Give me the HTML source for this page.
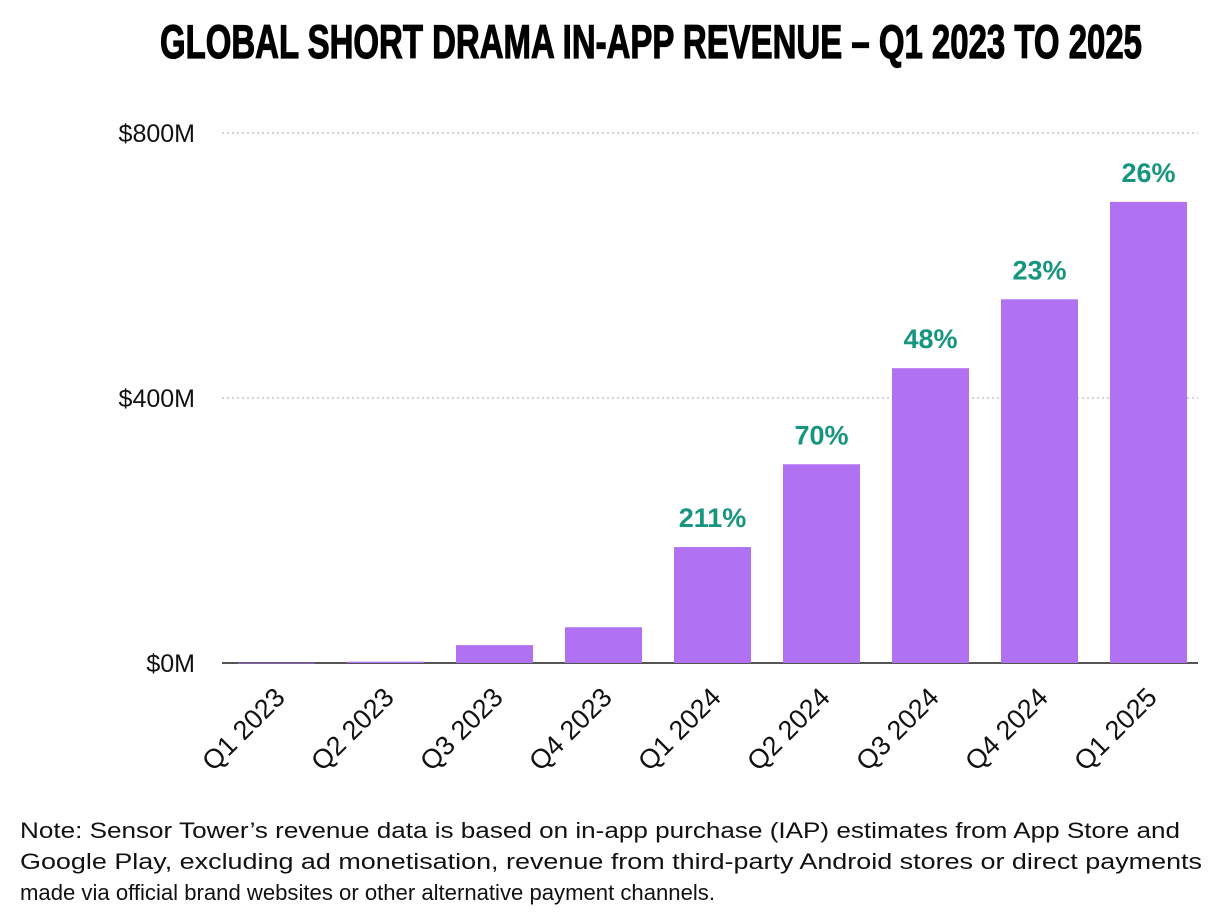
<!DOCTYPE html>
<html><head><meta charset="utf-8"><style>
body{margin:0;background:#fff;}
svg{display:block;}
</style></head><body>
<svg id="chart" width="1224" height="916" viewBox="0 0 1224 916" xmlns="http://www.w3.org/2000/svg">
<text x="651" y="58" text-anchor="middle" font-family="'Liberation Sans Narrow','Liberation Sans',sans-serif" font-weight="bold" font-size="47" textLength="982" lengthAdjust="spacingAndGlyphs" fill="#000" stroke="#000" stroke-width="1.2">GLOBAL SHORT DRAMA IN-APP REVENUE – Q1 2023 TO 2025</text>
<g id="grid"></g>
<g id="bars"></g>
<g id="xlabels"></g>
<g font-family="'Liberation Sans',sans-serif" font-size="22" fill="#111">
<text x="20" y="838" textLength="1160" lengthAdjust="spacingAndGlyphs">Note: Sensor Tower’s revenue data is based on in-app purchase (IAP) estimates from App Store and</text>
<text x="20" y="869" textLength="1182" lengthAdjust="spacingAndGlyphs">Google Play, excluding ad monetisation, revenue from third-party Android stores or direct payments</text>
<text x="20" y="900" textLength="695" lengthAdjust="spacingAndGlyphs">made via official brand websites or other alternative payment channels.</text>
</g>
</svg>
<script>
const categories=["Q1 2023","Q2 2023","Q3 2023","Q4 2023","Q1 2024","Q2 2024","Q3 2024","Q4 2024","Q1 2025"];
const revenue=[0.5,2,27,54,175,300,445,549,696];
const growthLabels=["","","","","211%","70%","48%","23%","26%"];
const yTicks=[0,400,800];
const yTickLabels=["$0M","$400M","$800M"];
const NS="http://www.w3.org/2000/svg";
const y0=663, pxPer=265/400;
const yScale=v=>y0-v*pxPer;
const xCenter=i=>276.5+i*109;
const bw=77;
function mk(tag,attrs,parent){const e=document.createElementNS(NS,tag);for(const k in attrs)e.setAttribute(k,attrs[k]);parent.appendChild(e);return e;}
const grid=document.getElementById('grid'),bars=document.getElementById('bars'),xl=document.getElementById('xlabels');
yTicks.forEach((t,i)=>{
  const y=yScale(t);
  const l=mk('line',{x1:222,x2:1198,y1:y,y2:y,stroke:t===0?'#555':'#bbb','stroke-width':t===0?2:1.2,'stroke-dasharray':t===0?'':'2 3'},grid);
  
  
  const tx=mk('text',{x:195,y:y+9,'text-anchor':'end','font-family':"'Liberation Sans',sans-serif",'font-size':25,fill:'#111'},grid);
  tx.textContent=yTickLabels[i];
  
  
});
categories.forEach((c,i)=>{
  const cx=xCenter(i),top=yScale(revenue[i]);
  const r=mk('rect',{x:cx-bw/2,y:top,width:bw,height:Math.max(y0-top,0.8),fill:'#b072f2'},bars);
  
  
  if(growthLabels[i]){
    const g=mk('text',{x:cx,y:top-20,'text-anchor':'middle','font-family':"'Liberation Sans',sans-serif",'font-weight':'bold','font-size':27,fill:'#16957f'},bars);
    g.textContent=growthLabels[i];
    
    
  }
  const t=mk('text',{x:0,y:0,'text-anchor':'end','font-family':"'Liberation Sans',sans-serif",'font-size':27,fill:'#111',transform:`translate(${cx+10},${y0+36}) rotate(-45)`},xl);
  t.textContent=c;
  
  
});
</script>
</body></html>
